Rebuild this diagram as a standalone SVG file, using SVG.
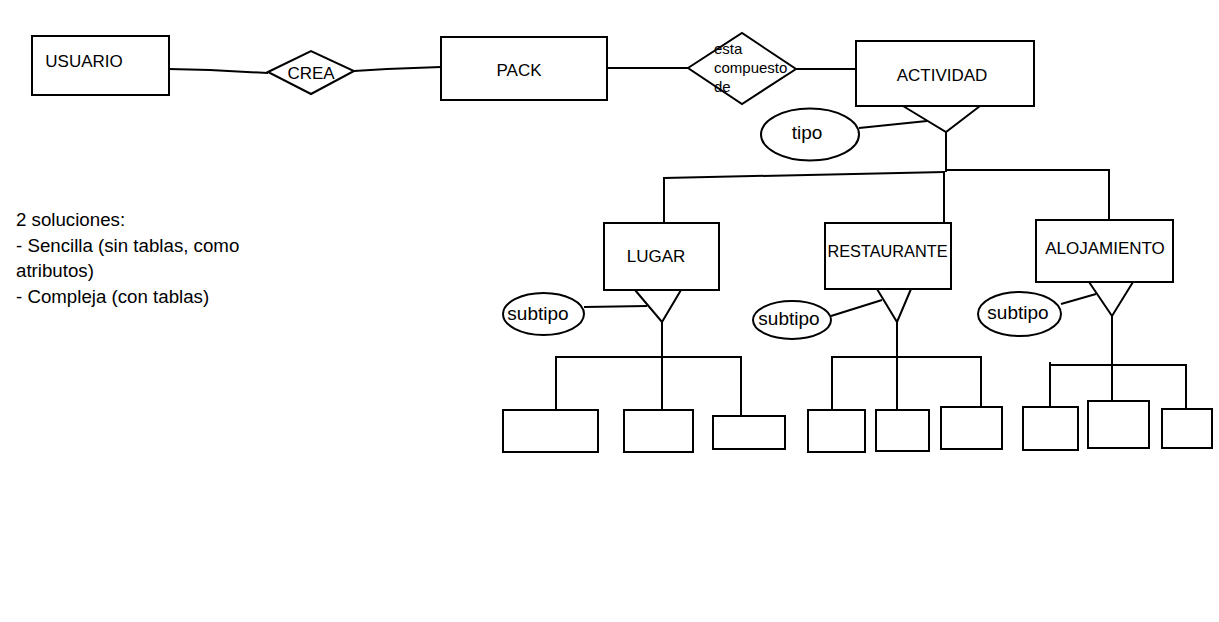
<svg xmlns="http://www.w3.org/2000/svg" width="1219" height="622" viewBox="0 0 1219 622">
<style>
  .shape { fill: #ffffff; stroke: #000000; stroke-width: 2; }
  .line { fill: none; stroke: #000000; stroke-width: 2; stroke-linejoin: miter; }
  .lbl { font-family: "Liberation Sans", Arial, sans-serif; font-size: 17px; fill: #000000; text-anchor: middle; }
  .attr { font-family: "Liberation Sans", Arial, sans-serif; font-size: 19px; fill: #000000; }
  .small { font-family: "Liberation Sans", Arial, sans-serif; font-size: 15px; fill: #000000; }
  .note { font-family: "Liberation Sans", Arial, sans-serif; font-size: 18.7px; fill: #000000; }
</style>
<rect width="1219" height="622" fill="#ffffff"/>

<g id="connectors">
  <polyline class="line" points="169,69 210,70 268,73"/>
  <polyline class="line" points="354,71 387,69 441,67"/>
  <line class="line" x1="607" y1="68" x2="688" y2="68"/>
  <line class="line" x1="796" y1="69" x2="856" y2="69"/>
  <!-- tipo -->
  <line class="line" x1="859" y1="128" x2="927" y2="121"/>
  <line class="line" x1="946" y1="132" x2="946" y2="172"/>
  <line class="line" x1="664" y1="178" x2="945" y2="172"/>
  <line class="line" x1="945" y1="170" x2="1110" y2="170"/>
  <line class="line" x1="664" y1="177" x2="664" y2="223"/>
  <line class="line" x1="944" y1="171" x2="944" y2="223"/>
  <line class="line" x1="1109" y1="169" x2="1109" y2="220"/>
  <!-- LUGAR -->
  <line class="line" x1="584" y1="307" x2="647" y2="306"/>
  <line class="line" x1="662" y1="322" x2="662" y2="357"/>
  <line class="line" x1="556" y1="357" x2="741" y2="357"/>
  <line class="line" x1="556" y1="356" x2="556" y2="410"/>
  <line class="line" x1="662" y1="356" x2="662" y2="410"/>
  <line class="line" x1="741" y1="356" x2="741" y2="416"/>
  <!-- RESTAURANTE -->
  <line class="line" x1="831" y1="316" x2="882" y2="300"/>
  <line class="line" x1="897" y1="322" x2="897" y2="357"/>
  <line class="line" x1="832" y1="357" x2="981" y2="357"/>
  <line class="line" x1="832" y1="356" x2="832" y2="410"/>
  <line class="line" x1="897" y1="356" x2="897" y2="410"/>
  <line class="line" x1="981" y1="356" x2="981" y2="407"/>
  <!-- ALOJAMIENTO -->
  <line class="line" x1="1061" y1="304" x2="1096" y2="294"/>
  <line class="line" x1="1112" y1="316" x2="1112" y2="365"/>
  <line class="line" x1="1050" y1="365" x2="1186" y2="365"/>
  <line class="line" x1="1050" y1="362" x2="1050" y2="407"/>
  <line class="line" x1="1112" y1="364" x2="1112" y2="401"/>
  <line class="line" x1="1186" y1="364" x2="1186" y2="409"/>
</g>

<g id="usuario">
  <rect class="shape" x="32" y="36" width="137" height="59"/>
  <text class="lbl" x="84" y="67">USUARIO</text>
</g>
<g id="crea">
  <polygon class="shape" points="268,72 311,51 354,71 311,94"/>
  <text class="lbl" x="311" y="79">CREA</text>
</g>
<g id="pack">
  <rect class="shape" x="441" y="37" width="166" height="63"/>
  <text class="lbl" x="519" y="76">PACK</text>
</g>
<g id="esta-compuesto-de">
  <polygon class="shape" points="688,68 742,33 796,69 742,104"/>
  <text class="small" x="714" y="54">esta</text>
  <text class="small" x="714" y="73">compuesto</text>
  <text class="small" x="714" y="92">de</text>
</g>
<g id="actividad">
  <rect class="shape" x="856" y="41" width="178" height="65"/>
  <text class="lbl" x="942" y="81">ACTIVIDAD</text>
  <polyline class="line" points="903,106 946,132 980,106"/>
</g>
<g id="tipo">
  <ellipse class="shape" cx="810" cy="134.5" rx="49" ry="26"/>
  <text class="attr" x="807" y="139" text-anchor="middle">tipo</text>
</g>

<g id="lugar">
  <rect class="shape" x="604" y="223" width="115" height="67"/>
  <text class="lbl" x="656" y="262">LUGAR</text>
  <polyline class="line" points="635,290 662,322 681,290"/>
</g>
<g id="subtipo-lugar">
  <ellipse class="shape" cx="543.5" cy="314" rx="40.5" ry="21"/>
  <text class="attr" x="538" y="320" text-anchor="middle">subtipo</text>
</g>
<g id="lugar-sub1"><rect class="shape" x="503" y="410" width="95" height="42"/></g>
<g id="lugar-sub2"><rect class="shape" x="624" y="410" width="69" height="42"/></g>
<g id="lugar-sub3"><rect class="shape" x="713" y="416" width="72" height="33"/></g>

<g id="restaurante">
  <rect class="shape" x="825" y="223" width="126" height="66"/>
  <text class="lbl" x="887.5" y="257" style="font-size:16.3px">RESTAURANTE</text>
  <polyline class="line" points="877,289 897,322 911,289"/>
</g>
<g id="subtipo-restaurante">
  <ellipse class="shape" cx="792" cy="320" rx="39" ry="19"/>
  <text class="attr" x="789" y="325" text-anchor="middle">subtipo</text>
</g>
<g id="restaurante-sub1"><rect class="shape" x="808" y="410" width="57" height="42"/></g>
<g id="restaurante-sub2"><rect class="shape" x="876" y="410" width="53" height="41"/></g>
<g id="restaurante-sub3"><rect class="shape" x="941" y="407" width="61" height="42"/></g>

<g id="alojamiento">
  <rect class="shape" x="1036" y="220" width="137" height="62"/>
  <text class="lbl" x="1105" y="254">ALOJAMIENTO</text>
  <polyline class="line" points="1089,282 1112,316 1133,282"/>
</g>
<g id="subtipo-alojamiento">
  <ellipse class="shape" cx="1019.5" cy="314" rx="41.5" ry="22"/>
  <text class="attr" x="1018" y="319" text-anchor="middle">subtipo</text>
</g>
<g id="alojamiento-sub1"><rect class="shape" x="1023" y="407" width="55" height="43"/></g>
<g id="alojamiento-sub2"><rect class="shape" x="1088" y="401" width="61" height="47"/></g>
<g id="alojamiento-sub3"><rect class="shape" x="1162" y="409" width="50" height="39"/></g>

<g id="note">
  <text class="note" x="16" y="226">2 soluciones:</text>
  <text class="note" x="16" y="252">- Sencilla (sin tablas, como</text>
  <text class="note" x="16" y="277">atributos)</text>
  <text class="note" x="16" y="303">- Compleja (con tablas)</text>
</g>
</svg>
